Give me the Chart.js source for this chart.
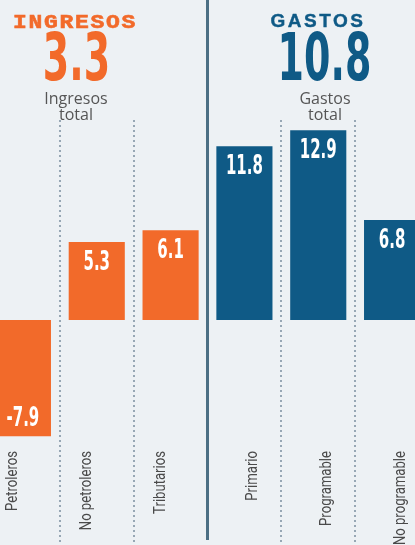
<!DOCTYPE html>
<html>
<head>
<meta charset="utf-8">
<script src="https://cdn.jsdelivr.net/npm/chart.js@4.4.1/dist/chart.umd.min.js"></script>
<style>
  html, body { margin: 0; padding: 0; }
  body { width: 415px; height: 545px; overflow: hidden; background: #edf1f4; position: relative; }
  #wrap { position: absolute; left: -14px; top: 0; width: 443px; height: 545px; }
  .hd { position: absolute; text-align: center; white-space: nowrap; }
  .ttl-ing { font: bold 20px/20px 'Liberation Mono', monospace; letter-spacing: 1.5px; color: #f26a2a; transform: scaleX(1.15); -webkit-text-stroke: 0.6px #f26a2a; }
  .ttl-gas { font: bold 19px/19px 'Liberation Sans', Arial, sans-serif; letter-spacing: 2.5px; color: #0f5a86; -webkit-text-stroke: 0.4px #0f5a86; }
  .tot { font: bold 66px/66px 'DejaVu Sans Condensed', 'DejaVu Sans', sans-serif; transform: scaleX(0.64); }
  .sub { font: 16px/16px 'Open Sans', sans-serif; color: #555; }
</style>
</head>
<body>
<div id="wrap"><canvas id="c" width="443" height="545"></canvas></div>
<div id="t0" class="hd ttl-ing" style="left:0;width:150px;top:13px"></div>
<div id="n0" class="hd tot" style="left:0;width:153px;top:25px;color:#f26a2a"></div>
<div id="s0" class="hd sub" style="left:0;width:152px;top:90px"></div>
<div id="t1" class="hd ttl-gas" style="left:217px;width:202px;top:11px"></div>
<div id="n1" class="hd tot" style="left:224px;width:201px;top:25px;color:#0f5a86"></div>
<div id="s1" class="hd sub" style="left:225px;width:200px;top:90px"></div>
<script>
// --- datos ---
const categories = ['Petroleros', 'No petroleros', 'Tributarios', 'Primario', 'Programable', 'No programable'];
const groups = [0, 0, 0, 1, 1, 1];            // 0 = ingresos, 1 = gastos
const values = [-7.9, 5.3, 6.1, 11.8, 12.9, 6.8];
const groupTitles = ['INGRESOS', 'GASTOS'];
const groupTotals = ['3.3', '10.8'];
const groupSubs = [['Ingresos', 'total'], ['Gastos', 'total']];

const ORANGE = '#f26a2a';
const BLUE = '#0f5a86';
const colors = [ORANGE, BLUE];

[0, 1].forEach(g => {
  document.getElementById('t' + g).textContent = groupTitles[g];
  document.getElementById('n' + g).textContent = groupTotals[g];
  document.getElementById('s' + g).innerHTML = groupSubs[g].join('<br>');
});

const overlay = {
  id: 'overlay',
  afterDatasetsDraw(chart) {
    const { ctx, scales: { x } } = chart;
    const meta = chart.getDatasetMeta(0);

    // divisor entre ingresos y gastos
    const xd = (x.getPixelForValue(2) + x.getPixelForValue(3)) / 2;
    ctx.save();
    ctx.strokeStyle = '#4c6f84';
    ctx.lineWidth = 3;
    ctx.beginPath();
    ctx.moveTo(xd, 0);
    ctx.lineTo(xd, 540);
    ctx.stroke();
    ctx.restore();

    // valores dentro de las barras
    meta.data.forEach((bar, i) => {
      const v = values[i];
      ctx.save();
      ctx.translate(bar.x, v >= 0 ? bar.y + 28 : bar.y - 10);
      ctx.scale(0.64, 1);
      ctx.fillStyle = '#fff';
      ctx.font = 'bold 26px "DejaVu Sans Condensed", "DejaVu Sans"';
      ctx.textAlign = 'center';
      ctx.textBaseline = 'alphabetic';
      ctx.fillText(v.toFixed(1), 0, 0);
      ctx.restore();
    });

    // etiquetas verticales
    categories.forEach((c, i) => {
      const px = x.getPixelForValue(i) + (groups[i] === 0 ? -9.5 : 8.5);
      ctx.save();
      ctx.translate(px, 451);
      ctx.rotate(-Math.PI / 2);
      ctx.scale(0.82, 1);
      ctx.fillStyle = '#4a4a4a';
      ctx.font = '16px Roboto';
      ctx.textAlign = 'right';
      ctx.textBaseline = 'middle';
      ctx.fillText(c, 0, 0);
      ctx.restore();
    });
  }
};

new Chart(document.getElementById('c').getContext('2d'), {
  type: 'bar',
  data: {
    labels: categories,
    datasets: [{
      data: values,
      backgroundColor: groups.map(g => colors[g]),
      barPercentage: 0.76,
      categoryPercentage: 1
    }]
  },
  options: {
    responsive: false,
    animation: false,
    devicePixelRatio: 1,
    layout: { padding: { top: 120, left: 0, right: 0, bottom: 0 } },
    plugins: { legend: { display: false }, tooltip: { enabled: false } },
    scales: {
      x: {
        grid: {
          offset: true, drawTicks: false, lineWidth: 2,
          color: c => (c.index % 3 === 0) ? 'rgba(0,0,0,0)' : '#97a7b4'
        },
        border: { display: false, dash: [2, 3] },
        ticks: { display: false }
      },
      y: { display: false, min: -15.29, max: 13.59 }
    }
  },
  plugins: [overlay]
});
</script>
</body>
</html>
